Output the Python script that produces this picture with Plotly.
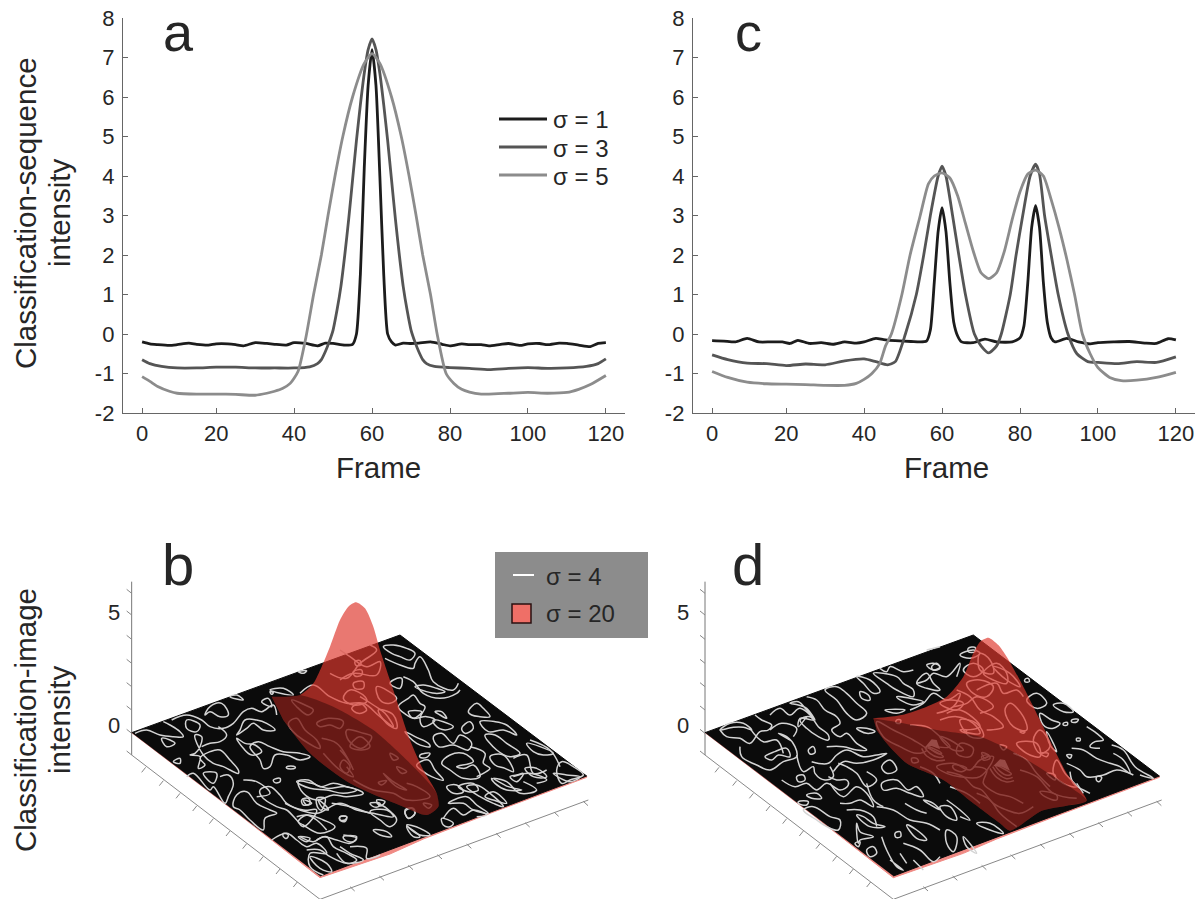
import plotly.graph_objects as go

W, H = 1202, 899

# ---------- top panels: values ----------
TICK_X = [1, 20, 40, 60, 80, 100, 120]
TICK_X_TEXT = ["0", "20", "40", "60", "80", "100", "120"]
TICK_Y = [-2, -1, 0, 1, 2, 3, 4, 5, 6, 7, 8]
TICK_Y_TEXT = ["-2", "-1", "0", "1", "2", "3", "4", "5", "6", "7", "8"]

A1_F = [1, 3, 5, 8, 10, 13, 15, 18, 20, 23, 25, 27, 30, 33, 35, 38, 40, 43, 46, 48, 50, 53, 55, 56, 57, 58, 59, 60, 61, 62, 63, 64, 65, 66,
        68, 70, 72, 75, 78, 80, 83, 85, 88, 90, 93, 95, 98, 100, 103, 105, 108, 110, 113, 116, 118, 120]
A1_V = [-0.2, -0.25, -0.27, -0.29, -0.27, -0.23, -0.26, -0.28, -0.25, -0.25, -0.27, -0.3, -0.22, -0.24, -0.26, -0.28, -0.22, -0.24, -0.3, -0.23,
        -0.24, -0.28, -0.26, 0.0, 1.5, 4.2, 6.3, 7.2, 6.3, 4.0, 1.5, 0.0, -0.2, -0.28, -0.23, -0.24, -0.23, -0.2, -0.26, -0.3, -0.25, -0.27, -0.27,
        -0.3, -0.26, -0.24, -0.29, -0.25, -0.24, -0.27, -0.23, -0.24, -0.28, -0.32, -0.24, -0.22]
A3_F = [1, 3, 6, 10, 15, 20, 25, 30, 35, 40, 44, 46, 47, 48, 49, 50, 51, 52, 53, 54, 55, 56, 57, 58, 59, 60, 61, 62, 63, 64, 65, 66, 67, 68, 69,
        70, 71, 72, 73, 74, 76, 80, 85, 90, 95, 100, 105, 110, 115, 118, 120]
A3_V = [-0.65, -0.75, -0.82, -0.86, -0.86, -0.84, -0.84, -0.86, -0.86, -0.86, -0.83, -0.75, -0.65, -0.45, -0.2, 0.1, 0.6, 1.2, 2.0, 2.9, 3.9, 4.9,
        5.8, 6.6, 7.2, 7.47, 7.2, 6.6, 5.8, 4.9, 3.9, 2.9, 2.0, 1.2, 0.6, 0.1, -0.2, -0.45, -0.65, -0.75, -0.82, -0.85, -0.87, -0.9, -0.87, -0.85,
        -0.87, -0.86, -0.82, -0.75, -0.63]
A5_F = [1, 3, 5, 8, 10, 15, 20, 25, 30, 33, 35, 37, 39, 41, 43, 45, 47, 48.7, 50.5, 52.5, 55, 58, 60, 62, 65, 67.5, 69.5, 71.3, 73, 75, 76.7, 79,
        81, 83, 85, 88, 90, 95, 100, 105, 110, 113, 116, 120]
A5_V = [-1.08, -1.2, -1.33, -1.45, -1.5, -1.52, -1.52, -1.53, -1.55, -1.5, -1.45, -1.38, -1.25, -0.95, -0.1, 1.0, 2.0, 3.0, 4.0, 5.0, 6.0, 6.85, 7.1,
        6.85, 6.0, 5.0, 4.0, 3.0, 2.0, 1.0, 0.0, -1.0, -1.25, -1.4, -1.47, -1.52, -1.52, -1.5, -1.48, -1.5, -1.48, -1.4, -1.28, -1.05]

C1_F = [1, 4, 7, 10, 13, 16, 19, 21, 23, 26, 29, 32, 35, 38, 40, 43, 45, 48, 52, 56, 57, 58, 59, 60, 61, 62, 63, 64, 65, 68, 71, 74, 78, 80, 81, 82,
        83, 84, 85, 86, 87, 88, 89, 92, 95, 98, 100, 104, 108, 112, 115, 118, 120]
C1_V = [-0.17, -0.18, -0.2, -0.11, -0.2, -0.2, -0.2, -0.24, -0.16, -0.24, -0.22, -0.26, -0.2, -0.23, -0.2, -0.11, -0.14, -0.17, -0.19, -0.18, 0.1,
        1.3, 2.6, 3.2, 2.6, 1.3, 0.3, -0.05, -0.2, -0.22, -0.13, -0.2, -0.2, -0.1, 0.2, 1.3, 2.7, 3.25, 2.7, 1.3, 0.3, -0.1, -0.2, -0.11, -0.2, -0.25,
        -0.22, -0.2, -0.19, -0.23, -0.24, -0.12, -0.15]
C3_F = [1, 5, 10, 15, 20, 25, 30, 35, 40, 43, 46, 48, 50.6, 53.4, 55.3, 57, 59, 60, 61, 62.7, 64.3, 66, 68.3, 70, 72, 74, 75.2, 77.5, 79, 80.7, 82.6,
        84, 85, 86.3, 88, 89.8, 92.3, 94.6, 97.4, 100, 105, 110, 115, 120]
C3_V = [-0.53, -0.65, -0.74, -0.75, -0.8, -0.76, -0.78, -0.68, -0.63, -0.7, -0.78, -0.7, 0.0, 1.0, 2.0, 3.0, 4.0, 4.25, 4.0, 3.0, 2.0, 1.0, 0.0, -0.3,
        -0.48, -0.3, 0.0, 1.0, 2.0, 3.0, 4.0, 4.3, 4.05, 3.0, 2.0, 1.0, 0.0, -0.5, -0.7, -0.72, -0.75, -0.7, -0.72, -0.58]
C5_F = [1, 5, 10, 15, 20, 25, 30, 35, 38, 40, 42, 44, 45.5, 47, 49.7, 51.8, 54.4, 56.5, 58, 60, 62, 64, 66, 68, 70, 72, 74, 76, 78, 80, 82, 84, 86, 88,
        90, 92, 94, 96, 98, 100, 103, 106, 110, 115, 120]
C5_V = [-0.95, -1.1, -1.22, -1.26, -1.27, -1.28, -1.3, -1.3, -1.25, -1.15, -1.0, -0.75, -0.3, 0.0, 1.0, 2.0, 3.0, 3.8, 4.0, 4.08, 3.95, 3.5, 2.8, 2.1,
        1.55, 1.4, 1.55, 2.1, 2.9, 3.6, 4.05, 4.15, 4.0, 3.4, 2.7, 1.9, 1.0, 0.0, -0.5, -0.85, -1.1, -1.18, -1.17, -1.1, -0.97]

SIGMA_NAMES = ["σ = 1", "σ = 3", "σ = 5"]
SIGMA_COLORS = ["#1c1c1c", "#555555", "#8c8c8c"]

# ---------- bottom panels: projected surfaces ----------
B_QUAD = [(125, 578), (930, 285), (1490, 708), (690, 1008)]
B_EDGE = [(125, 578), (300, 712), (450, 826), (690, 1013), (790, 979), (900, 942), (1000, 897), (1200, 820), (1490, 712), (1490, 708), (690, 1004)]
B_RIDGE = [(545, 470), (630, 465), (670, 430), (695, 380), (720, 320), (750, 240), (775, 200), (798, 187), (825, 205), (850, 260), (870, 330), (910, 450),
           (960, 600), (1000, 690), (1040, 760), (1045, 800), (1010, 825), (940, 800), (780, 730), (660, 640), (580, 540)]
B_FOLD = [(545, 470), (630, 465), (730, 500), (850, 570), (950, 660), (1040, 760), (1045, 800), (1010, 825), (940, 800), (780, 730), (660, 640), (580, 540)]

D_QUAD = [(135, 578), (940, 285), (1498, 708), (700, 1008)]
D_EDGE = [(135, 578), (310, 712), (460, 826), (700, 1013), (800, 979), (910, 940), (1010, 897), (1210, 820), (1498, 712), (1498, 708), (700, 1004)]
D_RIDGE = [(640, 535), (725, 525), (800, 500), (860, 470), (910, 410), (940, 340), (960, 305), (985, 293), (1015, 315), (1040, 350), (1090, 440), (1150, 560),
           (1220, 700), (1280, 782), (1220, 797), (1145, 812), (1050, 872), (1020, 850), (940, 790), (850, 720), (740, 670), (680, 610), (650, 570)]
D_FOLD = [(640, 535), (730, 550), (830, 570), (960, 590), (1050, 630), (1150, 690), (1280, 782), (1220, 797), (1145, 812), (1050, 872), (1020, 850), (940, 790),
          (850, 720), (740, 670), (680, 610), (650, 570)]
D_CONES = [[(795, 622), (815, 598), (830, 600), (840, 628), (815, 618)], [(1000, 678), (1020, 658), (1035, 660), (1050, 692), (1025, 680)]]

# contour traces of panel b, grouped by the crop they were read from
B_LEFT = [
    [(15, 280), (50, 270), (90, 285), (130, 290), (160, 290), (150, 275), (120, 255), (100, 245)],
    [(110, 320), (135, 310), (120, 300), (95, 295)],
    [(125, 240), (170, 225), (215, 240), (240, 260), (280, 265), (310, 250), (340, 215), (365, 205), (395, 215), (430, 195), (440, 225)],
    [(195, 285), (215, 290), (210, 320), (195, 340), (180, 345), (210, 350), (205, 385), (225, 375), (210, 355), (240, 335), (270, 330), (300, 360), (325, 390), (325, 400), (280, 380), (250, 370), (220, 345)],
    [(225, 225), (240, 200), (275, 190), (295, 225), (270, 230), (240, 215)],
    [(320, 285), (350, 265), (370, 250), (400, 270), (435, 270), (410, 250), (380, 240), (345, 240), (330, 270)],
    [(320, 295), (345, 310), (375, 315), (395, 335), (365, 345), (340, 325)],
    [(360, 320), (385, 305), (420, 320), (460, 335), (510, 340), (540, 350), (510, 360), (470, 345), (435, 345), (420, 380), (400, 385), (390, 360)],
    [(265, 260), (290, 285), (270, 305), (240, 310), (215, 320)],
    [(270, 410), (295, 405), (310, 430), (295, 470), (285, 490), (250, 440), (240, 450), (190, 400), (170, 410)],
    [(150, 370), (130, 365), (150, 355)],
    [(320, 465), (350, 455), (380, 490), (420, 510), (440, 520), (405, 535), (400, 570), (360, 540), (330, 510), (310, 500)],
    [(390, 450), (420, 440), (450, 465), (470, 490), (520, 510), (560, 510), (520, 560), (500, 540), (470, 510), (440, 500), (395, 470)],
    [(430, 420), (450, 415), (450, 425), (435, 428)],
    [(470, 380), (495, 380), (495, 385), (470, 385)],
    [(505, 425), (545, 430), (590, 445), (650, 440), (700, 460), (650, 470), (610, 465), (560, 480), (520, 460)],
    [(520, 480), (545, 490), (530, 495)],
    [(565, 480), (590, 500), (595, 510), (575, 500)],
    [(605, 490), (660, 500), (720, 520)],
    [(425, 600), (470, 580), (500, 600), (530, 620), (560, 610), (590, 640), (540, 640), (540, 680), (580, 705)],
    [(505, 590), (540, 595), (530, 605)],
    [(460, 580), (475, 585), (470, 595), (460, 590)],
    [(560, 600), (590, 590), (610, 620), (650, 640), (680, 660), (650, 670), (620, 640)],
    [(630, 530), (650, 530), (645, 545), (630, 540)],
    [(640, 590), (680, 590), (670, 605), (645, 600)],
    [(500, 530), (530, 525), (560, 540), (590, 570)],
    [(420, 150), (460, 145), (490, 165)],
    [(395, 185), (425, 200), (415, 175)],
    [(300, 170), (340, 180), (320, 165)],
    [(505, 95), (530, 92), (520, 100)],
    [(420, 155), (430, 158), (425, 163)],
    [(170, 240), (210, 255), (200, 275), (170, 265)],
    [(340, 420), (380, 425), (420, 460), (380, 470)],
    [(220, 400), (260, 400), (250, 430)],
]
B_RIGHT = [
    [(40, 20), (70, 15), (110, 25), (135, 40), (120, 60), (90, 50), (65, 40)],
    [(45, 55), (90, 75), (130, 85), (135, 70), (150, 50), (175, 90), (190, 125), (250, 150), (265, 130)],
    [(70, 120), (95, 115), (90, 145), (60, 130)],
    [(100, 110), (130, 125), (160, 160), (210, 175), (260, 160), (270, 150)],
    [(135, 140), (160, 135), (200, 145), (225, 155), (195, 160)],
    [(85, 200), (115, 175), (130, 165), (150, 190), (165, 200), (150, 235), (160, 260), (195, 240), (170, 230), (130, 235), (110, 225)],
    [(115, 215), (155, 215), (130, 235)],
    [(195, 215), (215, 215), (230, 235), (210, 225)],
    [(105, 275), (135, 290), (175, 310), (180, 320), (140, 310)],
    [(190, 290), (215, 280), (250, 310), (270, 285), (305, 310), (295, 330), (250, 315), (205, 320)],
    [(190, 240), (220, 245), (250, 260), (225, 270), (195, 255)],
    [(275, 265), (300, 245), (310, 265), (285, 280)],
    [(295, 215), (320, 190), (340, 205), (360, 230), (330, 230), (305, 225)],
    [(330, 245), (375, 245), (410, 255), (440, 285), (400, 270), (355, 275)],
    [(345, 285), (375, 285), (410, 310), (450, 340), (420, 350), (380, 330)],
    [(470, 310), (510, 320), (550, 340), (520, 345), (490, 335)],
    [(465, 385), (500, 385), (530, 410), (490, 410)],
    [(215, 370), (240, 345), (280, 340), (310, 365), (260, 380), (285, 385), (310, 375), (330, 410), (280, 415), (240, 390)],
    [(300, 320), (345, 340), (340, 370), (360, 385), (340, 400), (320, 410)],
    [(360, 350), (400, 345), (430, 395), (405, 385), (375, 375)],
    [(440, 405), (460, 400), (440, 425), (420, 410)],
    [(365, 415), (415, 440), (455, 450), (410, 450), (375, 430)],
    [(265, 440), (310, 430), (325, 450), (295, 455)],
    [(345, 470), (370, 455), (410, 490), (370, 480)],
    [(235, 490), (280, 490), (310, 510), (355, 520), (320, 495), (290, 470)],
    [(105, 515), (125, 505), (135, 520), (115, 535)],
    [(0, 490), (30, 490), (25, 500), (10, 500)],
    [(0, 515), (50, 510), (80, 540), (60, 560), (30, 540)],
    [(215, 535), (250, 550), (240, 560), (220, 555)],
    [(110, 560), (150, 590), (130, 590)],
    [(150, 345), (180, 340), (170, 352), (150, 352)],
    [(140, 375), (175, 360), (195, 390), (220, 420), (185, 410), (160, 395)],
    [(560, 390), (575, 365), (610, 380), (640, 405), (600, 420), (575, 430)],
    [(430, 355), (470, 345), (490, 400), (530, 390)],
    [(480, 300), (540, 330), (570, 380)],
]
B_FRONT = [
    [(50, 35), (85, 30), (120, 50), (160, 40), (200, 50), (230, 60), (190, 70), (140, 60), (90, 55)],
    [(65, 90), (85, 85), (90, 100), (70, 105)],
    [(110, 85), (135, 85), (125, 120), (115, 115)],
    [(15, 100), (60, 120), (110, 130), (180, 100), (230, 120), (280, 130), (340, 140), (320, 115), (290, 100)],
    [(55, 155), (80, 135), (130, 150), (165, 170), (120, 190), (70, 165)],
    [(180, 140), (200, 140), (195, 150), (180, 150)],
    [(60, 200), (100, 215), (130, 200), (170, 210), (210, 220), (230, 205), (190, 195)],
    [(80, 240), (120, 240), (150, 260), (200, 280), (250, 270), (210, 250), (180, 230)],
    [(90, 260), (120, 295), (155, 305), (140, 280)],
    [(280, 180), (320, 185), (335, 200), (300, 195)],
    [(210, 230), (260, 235), (260, 265), (300, 255)],
    [(375, 120), (400, 115), (405, 130), (385, 145)],
    [(380, 165), (420, 175), (450, 195), (420, 195)],
    [(490, 145), (520, 115), (550, 135), (580, 120), (620, 135), (590, 140)],
    [(290, 90), (315, 95), (300, 108)],
    [(500, 50), (530, 45), (550, 65), (520, 70)],
    [(560, 50), (590, 45), (630, 70), (670, 110), (640, 100), (600, 80)],
    [(640, 25), (680, 35), (720, 70), (770, 60), (730, 35)],
    [(700, 20), (750, 10), (800, 30), (770, 40)],
    [(820, 10), (860, 15), (900, 20), (870, 35)],
]
B_RIDGE_LINES = [
    [(125, 330), (165, 345), (190, 360), (175, 375), (140, 350)],
    [(115, 400), (140, 385), (165, 420), (200, 450), (210, 475), (160, 450), (130, 425)],
    [(200, 400), (235, 385), (280, 395), (270, 415), (240, 405), (210, 410)],
    [(215, 445), (260, 460), (290, 500), (310, 540), (295, 510), (270, 480)],
    [(150, 310), (190, 285), (240, 320), (290, 340), (340, 340), (390, 380), (430, 410), (405, 370), (370, 345), (330, 320)],
    [(280, 325), (300, 300), (345, 320), (350, 335), (310, 345)],
    [(305, 355), (330, 340), (350, 360), (325, 370)],
    [(310, 280), (340, 275), (340, 295), (315, 295)],
    [(310, 245), (335, 240), (335, 255), (315, 258)],
    [(315, 215), (330, 212), (332, 225), (318, 226)],
    [(270, 270), (310, 250), (380, 255), (390, 215), (350, 230), (300, 200), (270, 180)],
    [(240, 250), (290, 265), (330, 220), (380, 180), (360, 165)],
    [(290, 420), (340, 430), (365, 440), (335, 475), (295, 450)],
    [(300, 470), (330, 440), (360, 470), (335, 480)],
    [(420, 490), (445, 505), (430, 510)],
    [(440, 530), (470, 545), (455, 550)],
    [(400, 550), (430, 575), (470, 600), (440, 590)],
    [(385, 578), (410, 572), (395, 585)],
    [(520, 640), (545, 645), (535, 655)],
    [(280, 510), (300, 530), (290, 550), (270, 530)],
    [(310, 570), (370, 600), (430, 610), (470, 630), (540, 620), (500, 590), (470, 580)],
    [(380, 290), (440, 325), (420, 340), (390, 330)],
    [(385, 360), (430, 375), (440, 415), (410, 400)],
    [(220, 490), (270, 540), (310, 560), (290, 530)],
]
D_LEFT = [
    [(60, 270), (90, 250), (130, 250), (155, 270), (130, 262), (100, 262)],
    [(60, 270), (80, 290), (120, 295), (150, 310), (180, 275), (205, 270), (215, 255), (185, 240), (165, 225)],
    [(120, 320), (125, 350), (170, 375), (210, 390), (250, 365), (290, 350), (285, 320), (260, 290), (235, 280), (270, 300)],
    [(195, 350), (225, 335), (260, 325), (270, 350), (235, 345), (215, 360)],
    [(210, 225), (240, 205), (270, 225), (300, 205), (340, 240), (300, 235), (295, 260), (320, 230)],
    [(300, 240), (330, 230), (355, 260), (385, 285), (385, 300), (355, 290), (320, 265)],
    [(270, 190), (295, 185), (320, 210), (345, 240), (320, 205), (295, 195)],
    [(320, 170), (350, 180), (375, 210), (410, 230), (420, 250), (395, 270), (420, 290), (440, 280), (470, 310), (500, 330), (470, 330), (430, 320), (380, 320)],
    [(375, 150), (410, 180), (440, 220), (470, 240), (500, 220), (470, 190), (440, 160), (410, 140)],
    [(480, 155), (505, 165), (510, 180), (485, 175)],
    [(470, 110), (490, 130), (520, 160), (540, 155), (510, 120)],
    [(520, 100), (560, 130), (590, 150), (640, 170), (640, 150), (610, 130), (590, 110)],
    [(540, 85), (560, 95), (570, 80), (610, 95), (640, 90)],
    [(590, 170), (630, 175), (670, 185), (640, 195), (610, 185)],
    [(650, 130), (680, 100), (700, 130), (720, 150), (680, 145)],
    [(680, 75), (700, 70), (720, 80), (700, 90)],
    [(680, 30), (720, 20)],
    [(470, 265), (500, 265), (525, 275), (500, 280)],
    [(555, 210), (590, 220), (615, 210)],
    [(325, 330), (340, 320), (345, 338), (330, 342)],
    [(335, 365), (385, 370), (410, 345), (440, 330), (490, 350), (530, 345), (560, 340), (520, 360), (470, 370), (430, 365), (400, 395)],
    [(290, 345), (310, 395), (340, 380), (345, 400), (375, 420), (400, 410), (390, 380)],
    [(290, 410), (310, 405), (315, 420), (295, 425)],
    [(245, 420), (285, 440), (320, 430), (350, 450), (380, 430), (420, 450), (445, 435), (440, 420), (410, 420), (385, 410)],
    [(320, 465), (350, 460), (365, 475), (335, 475)],
    [(295, 485), (325, 485), (320, 495), (295, 490)],
    [(415, 370), (440, 380), (470, 400), (500, 440), (530, 420), (500, 395)],
    [(390, 430), (430, 470), (470, 440), (500, 460), (520, 500), (480, 480), (450, 490), (420, 490)],
    [(340, 500), (390, 530), (420, 540), (415, 570), (380, 560), (350, 540), (310, 510)],
    [(470, 525), (510, 560), (555, 560), (520, 550), (490, 530)],
    [(470, 550), (480, 575), (520, 590), (480, 600), (475, 610)],
    [(530, 500), (580, 510), (630, 540), (680, 550), (720, 570)],
    [(545, 590), (560, 630), (590, 680), (610, 690), (570, 660)],
    [(620, 555), (650, 595), (680, 600), (650, 570)],
    [(585, 580), (600, 575), (602, 590), (588, 592)],
    [(465, 610), (480, 605), (475, 620)],
    [(500, 630), (520, 620), (530, 640), (510, 650)],
    [(545, 430), (590, 420), (625, 450), (650, 440), (670, 470), (630, 460), (590, 445), (550, 450)],
    [(545, 380), (570, 360), (590, 390), (560, 400)],
    [(660, 380), (700, 400), (720, 430)],
    [(670, 480), (700, 490), (720, 510)],
    [(615, 490), (650, 510), (680, 520)],
    [(210, 270), (245, 250), (290, 265), (280, 290)],
    [(500, 430), (520, 480), (550, 500)],
    [(440, 510), (480, 510), (520, 530), (530, 560)],
    [(610, 610), (660, 630), (700, 665), (720, 650)],
    [(640, 660), (670, 690)],
    [(600, 640), (620, 670)],
    [(150, 265), (190, 305), (230, 300), (250, 340)],
]
D_RIGHT = [
    [(255, 58), (265, 55), (268, 65), (255, 65)],
    [(260, 120), (290, 100), (320, 130), (290, 145)],
    [(340, 135), (370, 130), (400, 155), (370, 155)],
    [(300, 160), (335, 180), (360, 190), (340, 205), (310, 195)],
    [(370, 190), (382, 187), (382, 195), (370, 195)],
    [(395, 180), (415, 178), (410, 186), (395, 186)],
    [(440, 200), (470, 220), (490, 240), (465, 245), (450, 260), (480, 265)],
    [(410, 235), (420, 235), (420, 242), (410, 242)],
    [(380, 285), (395, 285), (390, 295)],
    [(395, 265), (430, 270), (470, 295), (510, 310), (540, 320), (570, 340), (550, 300), (520, 280)],
    [(380, 310), (420, 330), (440, 350), (490, 345), (530, 330), (580, 345)],
    [(390, 335), (400, 370), (430, 390), (450, 400)],
    [(470, 350), (485, 352), (478, 365), (470, 362)],
    [(515, 255), (550, 270), (585, 320), (640, 355), (600, 345)],
    [(320, 215), (340, 250), (350, 275), (330, 255)],
    [(300, 280), (325, 280), (320, 290)],
    [(40, 315), (80, 325), (65, 335), (40, 325)],
    [(60, 250), (100, 265), (90, 290), (50, 280)],
    [(125, 278), (145, 285), (135, 295)],
    [(180, 255), (200, 260), (190, 270)],
    [(100, 320), (140, 330), (130, 370), (170, 400), (210, 410), (250, 430)],
    [(20, 335), (70, 350), (100, 380), (125, 390), (160, 430), (200, 450), (240, 460), (280, 440)],
    [(110, 400), (150, 420), (180, 460), (230, 500)],
    [(220, 280), (260, 300), (290, 340), (330, 380)],
    [(240, 330), (290, 350), (340, 400), (410, 415)],
    [(30, 380), (80, 400), (120, 430)],
    [(20, 420), (60, 450), (90, 480), (60, 470)],
    [(0, 440), (30, 440), (50, 480), (20, 470)],
    [(20, 510), (50, 530), (40, 575), (20, 550)],
    [(110, 490), (150, 490), (190, 520), (150, 510)],
    [(70, 530), (110, 580), (80, 560)],
    [(320, 340), (345, 345), (345, 360)],
    [(300, 395), (350, 405), (350, 420), (315, 410)],
    [(410, 370), (430, 400)],
    [(0, 180), (50, 170), (100, 190), (120, 220), (70, 215)],
    [(0, 130), (50, 150), (70, 130), (30, 120)],
    [(50, 90), (90, 110), (120, 150), (160, 170), (190, 200), (140, 210)],
    [(110, 90), (170, 70), (190, 100), (230, 90), (250, 110)],
    [(210, 130), (250, 170), (260, 210), (220, 200), (195, 150)],
    [(240, 215), (255, 215), (250, 220)],
    [(60, 210), (80, 210), (75, 218)],
    [(0, 230), (30, 240), (70, 270), (40, 270)],
    [(100, 10), (130, 30), (100, 50), (70, 30)],
    [(160, 20), (210, 40), (240, 80), (200, 60)],
    [(300, 210), (330, 260), (300, 280), (280, 240)],
    [(230, 250), (290, 250), (300, 290), (260, 280)],
    [(350, 300), (375, 340), (410, 380), (370, 370), (340, 340)],
]
D_RIDGE_LINES = [
    [(650, 545), (700, 570), (760, 600), (800, 630), (770, 640), (720, 620), (670, 590)],
    [(710, 540), (722, 540), (720, 550), (708, 548)],
    [(750, 555), (800, 560), (840, 590), (870, 620), (830, 620)],
    [(755, 655), (770, 655), (775, 665), (758, 668)],
    [(785, 625), (800, 648), (830, 662), (855, 660)],
    [(795, 622), (810, 640), (835, 652), (850, 650)],
    [(805, 620), (818, 632), (838, 642), (845, 640)],
    [(990, 685), (1010, 712), (1040, 726), (1062, 722)],
    [(998, 680), (1015, 702), (1040, 716), (1058, 712)],
    [(1006, 676), (1020, 694), (1042, 706), (1054, 702)],
    [(830, 680), (880, 670), (930, 690), (960, 660), (1000, 650), (960, 710), (900, 710), (860, 700)],
    [(965, 650), (985, 645), (990, 655), (970, 660)],
    [(750, 510), (790, 490), (820, 460), (860, 480), (900, 460), (880, 500), (830, 520)],
    [(900, 540), (950, 550), (970, 590), (930, 590)],
    [(880, 500), (920, 490), (950, 470), (1000, 500), (960, 520)],
    [(920, 430), (960, 420), (1000, 440), (980, 470), (940, 460)],
    [(860, 520), (900, 510), (960, 560), (910, 570)],
    [(815, 380), (830, 370), (840, 385), (820, 390)],
    [(770, 430), (800, 420), (820, 400), (860, 410), (900, 370), (890, 410)],
    [(900, 345), (930, 355), (960, 340), (940, 330)],
    [(925, 325), (945, 322), (945, 335), (925, 335)],
    [(960, 340), (990, 360), (1000, 400), (960, 390)],
    [(1010, 370), (1040, 400), (1040, 430), (1000, 420), (970, 400)],
]

Z_TICK_Y = [160, 225, 298, 370, 440, 510, 580, 645]
LEFT_TICKS = [(167, 682), (220, 722), (270, 760), (320, 798), (370, 836), (420, 873), (470, 911), (520, 949), (570, 987), (622, 1026)]
RIGHT_TICKS = [(780, 1040), (868, 1008), (955, 976), (1042, 944), (1130, 912), (1218, 880), (1305, 848), (1392, 816), (1480, 784)]

fig = go.Figure()


def px_x(x):
    return x / W


def px_y(y):
    return 1 - y / H


def shift(paths, dx, dy):
    return [[(x + dx, y + dy) for x, y in p] for p in paths]


B_CONTOURS = shift(B_LEFT, 120, 300) + shift(B_RIGHT, 840, 300) + shift(B_FRONT, 570, 690) + shift(B_RIDGE_LINES, 480, 150)
D_CONTOURS = shift(D_LEFT, 120, 300) + shift(D_RIGHT, 840, 360) + D_RIDGE_LINES


def add_lines(axis_x, axis_y, series):
    for (f, v), name, color in zip(series, SIGMA_NAMES, SIGMA_COLORS):
        fig.add_trace(go.Scatter(x=f, y=v, mode="lines", name=name, showlegend=False,
                                 line=dict(color=color, width=2.8, shape="spline", smoothing=0.6),
                                 xaxis=axis_x, yaxis=axis_y, hoverinfo="skip"))


add_lines("x", "y", [(A1_F, A1_V), (A3_F, A3_V), (A5_F, A5_V)])
add_lines("x2", "y2", [(C1_F, C1_V), (C3_F, C3_V), (C5_F, C5_V)])


def xy(points):
    return [p[0] for p in points], [p[1] for p in points]


def flatten(paths):
    xs, ys = [], []
    for path in paths:
        p = list(path)
        gap = abs(p[0][0] - p[-1][0]) + abs(p[0][1] - p[-1][1])
        if gap < 90 and len(p) > 2:
            p.append(p[0])
        xs += [q[0] for q in p] + [None]
        ys += [q[1] for q in p] + [None]
    return xs, ys


def add_surface(ax, ay, quad, edge, contours, ridge, fold, origin_x, cones=None):
    common = dict(xaxis=ax, yaxis=ay, showlegend=False, hoverinfo="skip")
    fig.add_trace(go.Scatter(x=[origin_x, origin_x], y=[125, 645], mode="lines", line=dict(color="#777777", width=1), **common))
    fig.add_trace(go.Scatter(x=[origin_x, origin_x + 565, origin_x + 1370], y=[645, 1078, 780], mode="lines",
                             line=dict(color="#888888", width=1), **common))
    dx = origin_x - 125
    tx, ty = [], []
    for y in Z_TICK_Y:
        tx += [origin_x, origin_x - 15, None]
        ty += [y, y - 12, None]
    for x, y in LEFT_TICKS:
        tx += [x + dx, x + dx - 12, None]
        ty += [y, y + 15, None]
    for x, y in RIGHT_TICKS:
        tx += [x + dx, x + dx + 14, None]
        ty += [y, y + 13, None]
    fig.add_trace(go.Scatter(x=tx, y=ty, mode="lines", line=dict(color="#888888", width=1), **common))
    ex, ey = xy(edge)
    fig.add_trace(go.Scatter(x=ex, y=ey, mode="lines", fill="toself", fillcolor="#f08a84", line=dict(color="#f08a84", width=1), **common))
    qx, qy = xy(quad)
    fig.add_trace(go.Scatter(x=qx, y=qy, mode="lines", fill="toself", fillcolor="#0b0b0b", line=dict(color="#0b0b0b", width=1), **common))
    cx, cy = flatten(contours)
    fig.add_trace(go.Scatter(x=cx, y=cy, mode="lines", line=dict(color="#d4d4d4", width=1.5, shape="spline", smoothing=1.1), connectgaps=False, **common))
    if cones:
        for cone in cones:
            nx, ny = xy(cone)
            fig.add_trace(go.Scatter(x=nx, y=ny, mode="lines", fill="toself", fillcolor="#ffffff", line=dict(width=0), **common))
    rx, ry = xy(ridge)
    fig.add_trace(go.Scatter(x=rx, y=ry, mode="lines", fill="toself", fillcolor="rgba(222,56,46,0.68)",
                             line=dict(width=0, shape="spline", smoothing=0.7), **common))
    fx, fy = xy(fold)
    fig.add_trace(go.Scatter(x=fx, y=fy, mode="lines", fill="toself", fillcolor="rgba(20,0,0,0.38)",
                             line=dict(width=0, shape="spline", smoothing=0.7), **common))


add_surface("x3", "y3", B_QUAD, B_EDGE, B_CONTOURS, B_RIDGE, B_FOLD, 125)
add_surface("x4", "y4", D_QUAD, D_EDGE, D_CONTOURS, D_RIDGE, D_FOLD, 135, D_CONES)

TEXT = "#262626"
FONT = "Liberation Sans, Arial, sans-serif"
line_axis = dict(showgrid=False, zeroline=False, showline=True, linecolor="#666666", linewidth=1.4, ticks="inside", ticklen=5,
                 tickcolor="#666666", tickwidth=1, tickfont=dict(size=22, color=TEXT, family=FONT), mirror=False)
hidden = dict(visible=False, showgrid=False, zeroline=False, fixedrange=True)


def x_axis(left, right, anchor):
    return dict(line_axis, domain=[left / W, right / W], range=[-3.9, 124.9], tickmode="array", tickvals=TICK_X, ticktext=TICK_X_TEXT, anchor=anchor)


def y_axis(anchor):
    return dict(line_axis, domain=[1 - 413 / H, 1 - 18 / H], range=[-2, 8], tickmode="array", tickvals=TICK_Y, ticktext=TICK_Y_TEXT, anchor=anchor,
                ticklabelstandoff=3)


def ann(text, x, y, size, xanchor="center", yanchor="middle", angle=0, color=TEXT):
    return dict(text=text, x=px_x(x), y=px_y(y), xref="paper", yref="paper", showarrow=False, textangle=angle,
                xanchor=xanchor, yanchor=yanchor, font=dict(size=size, color=color, family=FONT))


annotations = [
    ann("a", 178, 32, 54), ann("c", 748, 32, 54), ann("b", 178, 564, 58), ann("d", 748, 564, 58),
    ann("Frame", 378, 467, 29.5), ann("Frame", 946, 467, 29.5),
    ann("Classification-sequence", 25, 213, 29.5, angle=-90), ann("intensity", 59, 213, 29.5, angle=-90),
    ann("Classification-image", 25, 720, 29.5, angle=-90), ann("intensity", 59, 720, 29.5, angle=-90),
    ann("5", 114, 612, 22), ann("0", 114, 725, 22), ann("5", 683, 612, 22), ann("0", 683, 725, 22),
    ann("σ = 1", 551, 120, 24, xanchor="left"), ann("σ = 3", 551, 148, 24, xanchor="left"), ann("σ = 5", 551, 176, 24, xanchor="left"),
    ann("σ = 4", 544, 576, 24, xanchor="left"), ann("σ = 20", 544, 613, 24, xanchor="left"),
]

shapes = [dict(type="rect", xref="paper", yref="paper", x0=495 / W, x1=648 / W, y0=px_y(638), y1=px_y(552),
               fillcolor="#8c8c8c", line=dict(width=0), layer="below")]
for y, color in zip([119, 147, 175], SIGMA_COLORS):
    shapes.append(dict(type="line", xref="paper", yref="paper", x0=499 / W, x1=547 / W, y0=px_y(y), y1=px_y(y), line=dict(color=color, width=3)))
shapes.append(dict(type="line", xref="paper", yref="paper", x0=513 / W, x1=534 / W, y0=px_y(575), y1=px_y(575), line=dict(color="#ffffff", width=2)))
shapes.append(dict(type="rect", xref="paper", yref="paper", x0=512 / W, x1=531 / W, y0=px_y(623), y1=px_y(604), fillcolor="#ef6f67", line=dict(color="#2a1010", width=1.5)))

fig.update_layout(
    width=W, height=H, margin=dict(l=0, r=0, t=0, b=0, autoexpand=False), paper_bgcolor="white", plot_bgcolor="rgba(0,0,0,0)",
    font=dict(family=FONT, color=TEXT), showlegend=False,
    xaxis=x_axis(123, 625, "y"), yaxis=y_axis("x"),
    xaxis2=x_axis(693, 1195, "y2"), yaxis2=y_axis("x2"),
    xaxis3=dict(hidden, domain=[90 / W, 610 / W], range=[0, 1560], anchor="y3"),
    yaxis3=dict(hidden, domain=[0, 359 / H], range=[1077, 0], anchor="x3"),
    xaxis4=dict(hidden, domain=[660 / W, 1180 / W], range=[0, 1560], anchor="y4"),
    yaxis4=dict(hidden, domain=[0, 359 / H], range=[1077, 0], anchor="x4"),
    annotations=annotations, shapes=shapes,
)

fig.write_html("out.html", config=dict(displayModeBar=False),
               post_script="document.body.style.margin='0';document.body.style.overflow='hidden';")
